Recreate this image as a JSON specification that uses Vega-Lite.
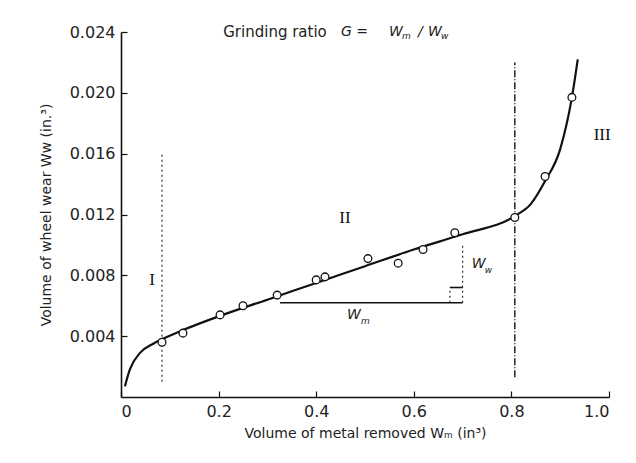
{
  "$schema": "https://vega.github.io/schema/vega-lite/v6.json",
  "width": 488,
  "height": 365,
  "autosize": {"type": "none"},
  "padding": {"left": 121, "top": 32, "right": 27, "bottom": 66},
  "background": "white",
  "config": {"view": {"stroke": null}, "font": "DejaVu Sans"},
  "datasets": {
    "curve": [
      {"x": 0.008, "y": 0.0007},
      {"x": 0.018, "y": 0.0018},
      {"x": 0.039, "y": 0.0029},
      {"x": 0.066, "y": 0.0035},
      {"x": 0.084, "y": 0.0038},
      {"x": 0.127, "y": 0.0044},
      {"x": 0.2, "y": 0.0053},
      {"x": 0.3, "y": 0.0064},
      {"x": 0.4, "y": 0.0075},
      {"x": 0.5, "y": 0.0086},
      {"x": 0.6, "y": 0.0097},
      {"x": 0.7, "y": 0.0107},
      {"x": 0.807, "y": 0.0119},
      {"x": 0.84, "y": 0.0127},
      {"x": 0.869, "y": 0.0142},
      {"x": 0.9, "y": 0.0163},
      {"x": 0.924, "y": 0.0197},
      {"x": 0.936, "y": 0.0222}
    ],
    "points": [
      {"x": 0.084, "y": 0.0036},
      {"x": 0.127, "y": 0.0042},
      {"x": 0.203, "y": 0.0054},
      {"x": 0.25, "y": 0.006},
      {"x": 0.32, "y": 0.0067},
      {"x": 0.4, "y": 0.0077},
      {"x": 0.418, "y": 0.0079},
      {"x": 0.506, "y": 0.0091},
      {"x": 0.568, "y": 0.0088},
      {"x": 0.619, "y": 0.0097},
      {"x": 0.684, "y": 0.0108},
      {"x": 0.807, "y": 0.0118},
      {"x": 0.869, "y": 0.0145},
      {"x": 0.924, "y": 0.0197}
    ],
    "guides": [
      {"kind": "dotted", "x": 0.084, "x2": 0.084, "y": 0.001, "y2": 0.016},
      {"kind": "dotted", "x": 0.7, "x2": 0.7, "y": 0.0062, "y2": 0.0101},
      {"kind": "dotted", "x": 0.674, "x2": 0.674, "y": 0.0062, "y2": 0.0072},
      {"kind": "dashdot", "x": 0.807, "x2": 0.807, "y": 0.0013, "y2": 0.022},
      {"kind": "solid", "x": 0.326, "x2": 0.7, "y": 0.0062, "y2": 0.0062},
      {"kind": "solid", "x": 0.674, "x2": 0.7, "y": 0.0072, "y2": 0.0072}
    ],
    "labels": [
      {"role": "roman", "text": "I", "x": 0.0635, "y": 0.0077},
      {"role": "roman", "text": "II", "x": 0.459, "y": 0.0118},
      {"role": "roman", "text": "III", "x": 0.986, "y": 0.0172},
      {"role": "plain", "text": "Grinding ratio", "x": 0.3156, "y": 0.024},
      {"role": "italic", "text": "G =", "x": 0.4508, "y": 0.024},
      {"role": "italic", "text": "W", "x": 0.549, "y": 0.024},
      {"role": "sub", "text": "m", "x": 0.5758, "y": 0.02372},
      {"role": "italic", "text": "/", "x": 0.6086, "y": 0.024},
      {"role": "italic", "text": "W", "x": 0.629, "y": 0.024},
      {"role": "sub", "text": "w", "x": 0.6557, "y": 0.02372},
      {"role": "italic", "text": "W", "x": 0.719, "y": 0.00875},
      {"role": "sub", "text": "w", "x": 0.7455, "y": 0.00838},
      {"role": "italic", "text": "W", "x": 0.463, "y": 0.0054},
      {"role": "sub", "text": "m", "x": 0.4918, "y": 0.005}
    ]
  },
  "encoding": {
    "x": {
      "field": "x",
      "type": "quantitative",
      "scale": {"domain": [0, 1.0], "nice": false, "zero": false},
      "axis": {
        "values": [0, 0.2, 0.4, 0.6, 0.8, 1.0],
        "labelExpr": "datum.value == 0 ? '0' : format(datum.value, '.1f')",
        "grid": false,
        "domainColor": "#111",
        "domainWidth": 1.6,
        "tickColor": "#111",
        "tickSize": -6,
        "tickWidth": 1.2,
        "labelFontSize": 16,
        "labelColor": "#222",
        "labelPadding": 12,
        "title": "Volume of metal removed Wₘ (in³)",
        "titleFontSize": 14,
        "titleFontWeight": "normal",
        "titleColor": "#222",
        "titlePadding": 7
      }
    },
    "y": {
      "field": "y",
      "type": "quantitative",
      "scale": {"domain": [0, 0.024], "nice": false, "zero": false},
      "axis": {
        "values": [0.004, 0.008, 0.012, 0.016, 0.02, 0.024],
        "format": ".3f",
        "grid": false,
        "domainColor": "#111",
        "domainWidth": 1.6,
        "tickColor": "#111",
        "tickSize": -6,
        "tickWidth": 1.2,
        "labelFontSize": 16,
        "labelColor": "#222",
        "labelPadding": 12,
        "title": "Volume of wheel wear Ww (in.³)",
        "titleFontSize": 14,
        "titleFontWeight": "normal",
        "titleColor": "#222",
        "titlePadding": 16
      }
    }
  },
  "layer": [
    {
      "data": {"name": "guides"},
      "transform": [{"filter": "datum.kind == 'dotted'"}],
      "mark": {"type": "rule", "color": "#333", "strokeWidth": 1.2, "strokeDash": [2, 3]},
      "encoding": {"x2": {"field": "x2"}, "y2": {"field": "y2"}}
    },
    {
      "data": {"name": "guides"},
      "transform": [{"filter": "datum.kind == 'dashdot'"}],
      "mark": {"type": "rule", "color": "#222", "strokeWidth": 1.5, "strokeDash": [7, 2, 1, 2]},
      "encoding": {"x2": {"field": "x2"}, "y2": {"field": "y2"}}
    },
    {
      "data": {"name": "guides"},
      "transform": [{"filter": "datum.kind == 'solid'"}],
      "mark": {"type": "rule", "color": "#111", "strokeWidth": 1.6},
      "encoding": {"x2": {"field": "x2"}, "y2": {"field": "y2"}}
    },
    {
      "data": {"name": "curve"},
      "mark": {"type": "line", "interpolate": "monotone", "color": "#111", "strokeWidth": 2.2},
      "encoding": {}
    },
    {
      "data": {"name": "points"},
      "mark": {"type": "point", "filled": true, "fill": "white", "stroke": "#111", "strokeWidth": 1.3, "size": 60, "opacity": 1},
      "encoding": {}
    },
    {
      "data": {"name": "labels"},
      "transform": [{"filter": "datum.role == 'roman'"}],
      "mark": {"type": "text", "font": "Liberation Serif", "fontSize": 17, "color": "#111", "align": "center", "baseline": "middle"},
      "encoding": {"text": {"field": "text"}}
    },
    {
      "data": {"name": "labels"},
      "transform": [{"filter": "datum.role == 'plain'"}],
      "mark": {"type": "text", "fontSize": 15, "color": "#222", "align": "center", "baseline": "middle"},
      "encoding": {"text": {"field": "text"}}
    },
    {
      "data": {"name": "labels"},
      "transform": [{"filter": "datum.role == 'italic'"}],
      "mark": {"type": "text", "fontSize": 14, "fontStyle": "italic", "color": "#222", "align": "left", "baseline": "middle"},
      "encoding": {"text": {"field": "text"}}
    },
    {
      "data": {"name": "labels"},
      "transform": [{"filter": "datum.role == 'sub'"}],
      "mark": {"type": "text", "fontSize": 9, "fontStyle": "italic", "color": "#222", "align": "left", "baseline": "middle"},
      "encoding": {"text": {"field": "text"}}
    }
  ]
}
